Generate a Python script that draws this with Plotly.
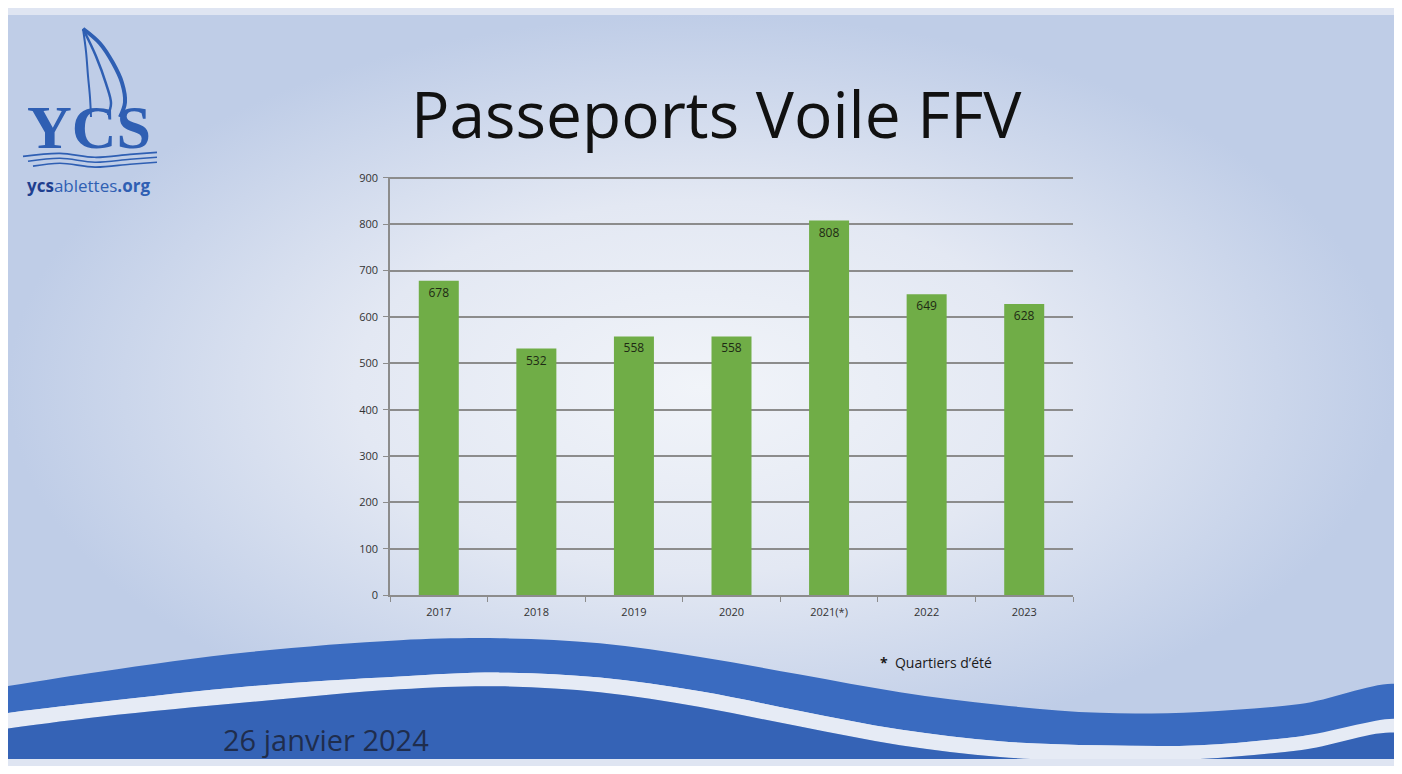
import plotly.graph_objects as go

# ---- data ----
categories = ["2017", "2018", "2019", "2020", "2021(*)", "2022", "2023"]
values = [678, 532, 558, 558, 808, 649, 628]
y_ticks = [0, 100, 200, 300, 400, 500, 600, 700, 800, 900]

# page geometry (the page body has an 8px margin; keep the figure inside the window)
PAGE_W, PAGE_H = 1402, 774
OFF = 8
W, H = PAGE_W - 2 * OFF, PAGE_H - 2 * OFF
X0, X1, Y0, Y1 = OFF, PAGE_W - OFF, OFF, PAGE_H - OFF

BAR_GREEN = "#70ad47"
BLUE = "#3a6bc0"
BLUE_DARK = "#3563b6"
LOGO_BLUE = "#2f5fb3"

# decorative geometry (slide background waves, page pixel space)
wave_x = [0, 100, 250, 400, 500, 600, 700, 800, 900, 1000, 1100, 1200, 1300, 1402]
wave_top = [693, 677, 657, 645, 643, 648, 662, 680, 698, 711, 719, 718, 710, 692]
stripe_top = [720, 708, 692, 682, 678, 683, 697, 717, 736, 748, 752, 752, 743, 727]
stripe_bot = [736, 723, 708, 695, 692, 698, 713, 733, 752, 764, 768, 766, 757, 742]

fig = go.Figure()

# background gradient (full slide)
fig.add_trace(go.Scatter(
    x=[X0, X1, X1, X0, X0], y=[Y0, Y0, Y1, Y1, Y0], mode="lines", fill="toself",
    line=dict(width=0, color="rgba(0,0,0,0)"),
    fillgradient=dict(type="radial",
                      colorscale=[[0, "#f1f4f9"], [0.5, "#e3e8f3"], [1, "#bfcde7"]]),
    hoverinfo="skip", showlegend=False, xaxis="x", yaxis="y"))

# upper blue band
fig.add_trace(go.Scatter(
    x=wave_x + wave_x[::-1], y=wave_top + stripe_top[::-1],
    mode="lines", fill="toself", fillcolor=BLUE, line=dict(width=0, shape="spline"),
    hoverinfo="skip", showlegend=False, xaxis="x", yaxis="y"))
# white stripe
fig.add_trace(go.Scatter(
    x=wave_x + wave_x[::-1], y=stripe_top + stripe_bot[::-1],
    mode="lines", fill="toself", fillcolor="#e6ebf5", line=dict(width=0, shape="spline"),
    hoverinfo="skip", showlegend=False, xaxis="x", yaxis="y"))
# lower blue band
fig.add_trace(go.Scatter(
    x=wave_x + [PAGE_W, 0], y=stripe_bot + [PAGE_H + 5, PAGE_H + 5],
    mode="lines", fill="toself", fillcolor=BLUE_DARK, line=dict(width=0, shape="spline"),
    hoverinfo="skip", showlegend=False, xaxis="x", yaxis="y"))

# logo sail (outline)
fig.add_trace(go.Scatter(
    x=[83, 100, 113, 122, 125, 120], y=[22, 37, 57, 77, 97, 112], mode="lines",
    line=dict(width=4, color=LOGO_BLUE, shape="spline"),
    hoverinfo="skip", showlegend=False, xaxis="x", yaxis="y"))
fig.add_trace(go.Scatter(
    x=[84, 96, 106, 111, 108], y=[24, 50, 78, 98, 110], mode="lines",
    line=dict(width=2.5, color=LOGO_BLUE, shape="spline"),
    hoverinfo="skip", showlegend=False, xaxis="x", yaxis="y"))
fig.add_trace(go.Scatter(
    x=[83, 86, 88, 90, 91], y=[22, 45, 70, 92, 112], mode="lines",
    line=dict(width=2, color=LOGO_BLUE, shape="spline"),
    hoverinfo="skip", showlegend=False, xaxis="x", yaxis="y"))
for dy, xs in [(0, 23), (5, 28), (10, 33)]:
    fig.add_trace(go.Scatter(
        x=[xs, 60, 95, 130, 157], y=[152 + dy, 149 + dy, 153 + dy, 150 + dy, 148 + dy],
        mode="lines", line=dict(width=1.6, color=LOGO_BLUE, shape="spline"),
        hoverinfo="skip", showlegend=False, xaxis="x", yaxis="y"))

# bar chart
fig.add_trace(go.Bar(
    x=categories, y=values, marker=dict(color=BAR_GREEN, line=dict(width=0)),
    text=[str(v) for v in values], textposition="inside", insidetextanchor="end",
    textfont=dict(family="Open Sans", size=12, color="#1e2a14"),
    textangle=0,
    hoverinfo="x+y", showlegend=False, xaxis="x2", yaxis="y2"))

left, right, zero_px, top900_px = 390, 1073, 599, 174
y_max = 903
top_px = zero_px - y_max * (zero_px - top900_px) / 900.0

fig.update_layout(
    width=W, height=H,
    margin=dict(l=0, r=0, t=0, b=0),
    paper_bgcolor="#dfe5f2",
    plot_bgcolor="rgba(0,0,0,0)",
    bargap=0.59,
    showlegend=False,
    xaxis=dict(domain=[0, 1], range=[X0, X1], visible=False, fixedrange=True),
    yaxis=dict(domain=[0, 1], range=[Y1, Y0], visible=False, fixedrange=True),
    xaxis2=dict(domain=[(left - X0) / W, (right - X0) / W], anchor="y2", type="category",
                showline=True, linecolor="#8c8c8c", linewidth=1.5,
                ticks="outside", tickson="boundaries", ticklen=5, tickcolor="#8c8c8c",
                ticklabelstandoff=6,
                tickfont=dict(family="Open Sans", size=11, color="#333333"),
                showgrid=False, zeroline=False),
    yaxis2=dict(domain=[(Y1 - zero_px) / H, (Y1 - top_px) / H], anchor="x2",
                range=[0, y_max], tickvals=y_ticks,
                showline=True, linecolor="#8c8c8c", linewidth=1.5,
                ticks="outside", ticklen=5, tickcolor="#8c8c8c",
                ticklabelstandoff=3,
                showgrid=True, gridcolor="#8c8c8c", gridwidth=1.5,
                zeroline=False,
                tickfont=dict(family="Open Sans", size=11, color="#333333")),
    annotations=[
        dict(text="Passeports Voile FFV", x=716, y=108, xref="x", yref="y",
             showarrow=False, xanchor="center", yanchor="middle",
             font=dict(family="Open Sans", size=64, color="#111111")),
        dict(text="<b>YCS</b>", x=89, y=122, xref="x", yref="y",
             showarrow=False, xanchor="center", yanchor="middle",
             font=dict(family="Liberation Serif", size=62, color=LOGO_BLUE)),
        dict(text="<b><span style='color:#1f3f8f'>ycs</span></b>ablettes<b>.org</b>",
             x=88, y=182, xref="x", yref="y",
             showarrow=False, xanchor="center", yanchor="middle",
             font=dict(family="Open Sans", size=17, color=LOGO_BLUE)),
        dict(text="<b>*</b>  Quartiers d’été", x=878, y=668, xref="x", yref="y",
             showarrow=False, xanchor="left", yanchor="middle",
             font=dict(family="Open Sans", size=14, color="#1a1a1a")),
        dict(text="26 janvier 2024", x=221, y=746, xref="x", yref="y",
             showarrow=False, xanchor="left", yanchor="middle",
             font=dict(family="Open Sans", size=29, color="#1f2d4d")),
    ],
)

fig.write_html("out.html")
